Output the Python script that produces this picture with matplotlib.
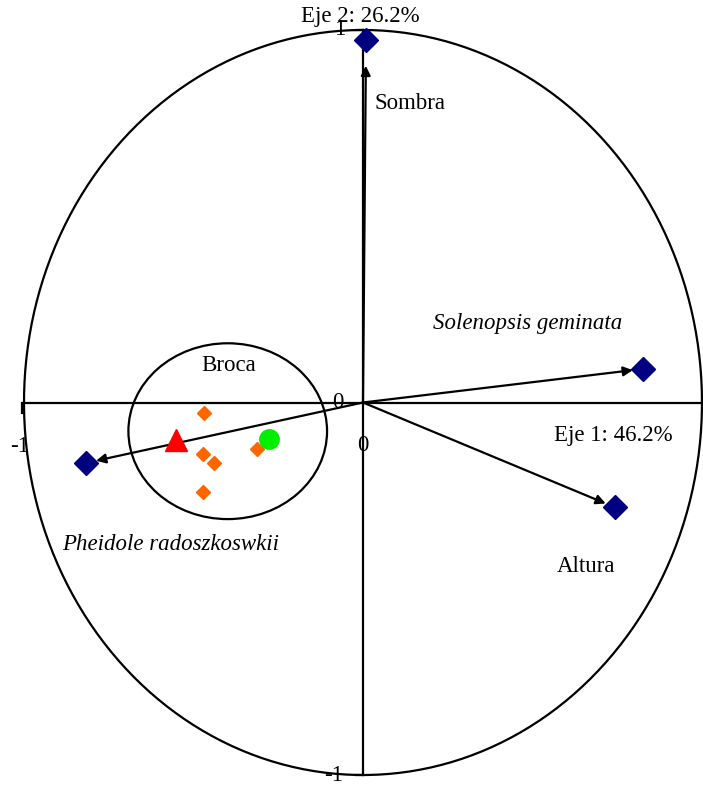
import numpy as np
import matplotlib
matplotlib.use("Agg")
import matplotlib.pyplot as plt
from matplotlib.patches import Ellipse

plt.rcParams['font.family'] = ['Liberation Serif', 'DejaVu Serif']

# Variables (correlation circle)
var_names = ["Sombra", "Solenopsis geminata", "Altura", "Pheidole radoszkoswkii"]
var_x = [0.009, 0.825, 0.742, -0.816]
var_y = [0.972, 0.090, -0.281, -0.162]

# Sites / observations
orange_x = [-0.468, -0.471, -0.439, -0.471, -0.312]
orange_y = [-0.028, -0.138, -0.162, -0.240, -0.125]
tri_x, tri_y = [-0.551], [-0.101]
circ_x, circ_y = [-0.277], [-0.098]

axis1_label = "Eje 1: 46.2%"
axis2_label = "Eje 2: 26.2%"

fig = plt.figure(figsize=(7.03, 7.85), dpi=100)
ax = fig.add_axes([0, 0, 1, 1])
ax.set_xlim(-1.0708, 1.003)
ax.set_ylim(-1.0268, 1.0805)
ax.axis('off')

# unit circle
th = np.linspace(0, 2 * np.pi, 400)
ax.plot(np.cos(th), np.sin(th), color='black', lw=1.6, clip_on=False)

# axes lines
ax.plot([-1.0, 1.003], [0, 0], color='black', lw=1.6)
ax.plot([0, 0], [-1, 1], color='black', lw=1.6)
# ticks
ax.plot([-1.005, -1.005], [0, -0.028], color='black', lw=1.6)
ax.plot([-0.022, 0], [1, 1], color='black', lw=1.6)
ax.plot([-0.022, 0], [-1, -1], color='black', lw=1.6)

# tick labels
fs = 16.5
ax.text(-1.012, -0.118, "-1", fontsize=fs, ha='center', va='center')
ax.text(0, -0.115, "0", fontsize=fs, ha='center', va='center')
ax.text(-0.074, 0.0, "0", fontsize=fs, ha='center', va='center')
ax.text(-0.068, 1.0, "1", fontsize=fs, ha='center', va='center')
ax.text(-0.088, -1.0, "-1", fontsize=fs, ha='center', va='center')

# group ellipse
ax.add_patch(Ellipse((-0.399, -0.077), 0.586, 0.472, fill=False,
                     edgecolor='black', lw=1.6))

# arrows
for x, y in zip(var_x, var_y):
    f = 0.965 if abs(y) < 0.5 else 0.93
    ax.annotate("", xy=(x * f, y * f), xytext=(0, 0),
                arrowprops=dict(arrowstyle='-|>', color='black', lw=1.6,
                                mutation_scale=14, shrinkA=0, shrinkB=0))
ax.plot(var_x, var_y, linestyle='none', marker='D', ms=12.5,
        color='#000080', zorder=5)

# observations
ax.plot(orange_x, orange_y, linestyle='none', marker='D', ms=7.5,
        color='#FF6600', zorder=5)
ax.plot(tri_x, tri_y, linestyle='none', marker='^', ms=16,
        color='#FF0000', zorder=5)
ax.plot(circ_x, circ_y, linestyle='none', marker='o', ms=14,
        color='#00EE00', zorder=5)

# labels
ax.text(0.139, 0.804, "Sombra", fontsize=fs, ha='center', va='center')
ax.text(0.485, 0.213, "Solenopsis geminata", fontsize=fs, ha='center',
        va='center', style='italic')
ax.text(0.738, -0.088, axis1_label, fontsize=fs, ha='center', va='center')
ax.text(0.657, -0.441, "Altura", fontsize=fs, ha='center', va='center')
ax.text(-0.566, -0.380, "Pheidole radoszkoswkii", fontsize=fs, ha='center',
        va='center', style='italic')
ax.text(-0.395, 0.098, "Broca", fontsize=fs, ha='center', va='center')
ax.text(-0.009, 1.035, axis2_label, fontsize=fs, ha='center', va='center')

fig.savefig("out.png", dpi=100)
